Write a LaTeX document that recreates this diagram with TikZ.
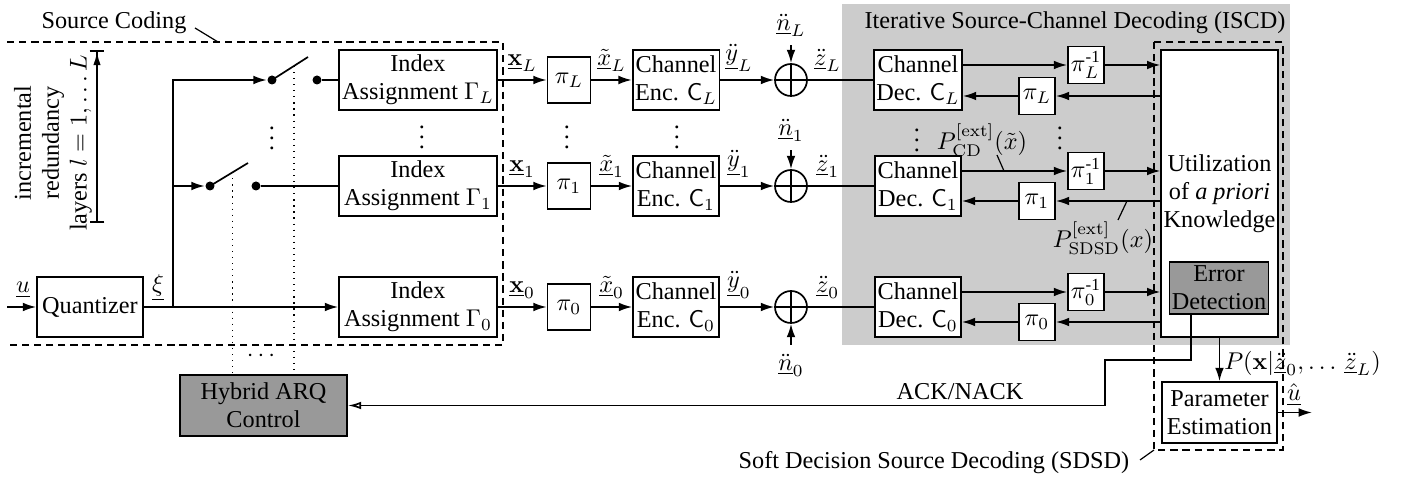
\documentclass[tikz,border=0pt]{standalone}
\usepackage{amsmath}
\usepackage[no-math]{fontspec}
\setmainfont{Liberation Serif}
\usetikzlibrary{arrows.meta,calc}
\newcommand{\pxl}{0.0145cm}
\tikzset{
  block/.style    = {shape=rectangle, draw, fill=white, align=center, inner sep=1pt},
  idxbox/.style   = {block, minimum width=158*\pxl, minimum height=60*\pxl},
  codbox/.style   = {block, minimum width=86*\pxl, minimum height=60*\pxl},
  permbox/.style  = {block, minimum width=43*\pxl, minimum height=46*\pxl},
  ilvbox/.style   = {block, minimum width=36*\pxl, minimum height=37*\pxl},
  ctrlbox/.style  = {block, fill=gray!80},
  adder/.style    = {circle, draw, minimum size=32*\pxl, inner sep=0pt},
  contact/.style  = {circle, fill, minimum size=9*\pxl, inner sep=0pt},
  arr/.style      = {-{Latex[length=5.5pt,width=3.6pt]}},
  openarr/.style  = {-{Latex[open,length=5.5pt,width=3.2pt]}},
  groupframe/.style = {dash pattern=on 3pt off 2pt},
  leader/.style   = {line width=0.5pt}
}

\begin{document}
\begin{tikzpicture}
  [
  x=\pxl, y=-\pxl,
  line width=0.7pt,
  every node/.style = {font=\fontsize{10}{11.5}\selectfont}
  ]
  \useasboundingbox (0,0) rectangle (1411,479);

  % ISCD area
  \fill[gray!40] (842,4) rectangle (1290,345);
  \node (iscdlbl) at (1075,23) {Iterative Source-Channel Decoding (ISCD)};

  % source coding
  \draw[groupframe] (7,42) -| (503,345) -- (7,345);
  \node (srclbl) at (114,23) {Source Coding};
  \draw[leader] (195,28) -- (218,42);
  \draw[{Bar[width=6pt]}-{Latex[open,length=5.5pt,width=3pt]Bar[width=6pt]}] (97,223) -- (97,50);
  \node[rotate=90, align=center] (layerslbl) at (53,143) {incremental\\redundancy\\layers $l=1,\dots L$};

  \node[block, minimum width=106*\pxl, minimum height=60*\pxl] (quant) at (90,307) {Quantizer};
  \coordinate (uin) at (7,307);
  \draw[arr] (uin) -- (quant);
  \node (ulbl) at (23,290) {$\underline{u}$};
  \node (xilbl) at (158,288) {$\underline{\xi}$};

  \node[idxbox] (iaL) at (418,80) {Index\\Assignment $\Gamma_L$};
  \node[idxbox] (ia1) at (418,186) {Index\\Assignment $\Gamma_1$};
  \node[idxbox] (ia0) at (418,307) {Index\\Assignment $\Gamma_0$};
  \node (iadots) at (422,130) {$\vdots$};

  % switches
  \coordinate (bus) at (173,307);
  \node[contact] (swLa) at (272,80) {};
  \node[contact] (swLb) at (317,80) {};
  \coordinate (swLtip) at (308,57);
  \node[contact] (sw1a) at (210,186) {};
  \node[contact] (sw1b) at (256,186) {};
  \coordinate (sw1tip) at (248,163);
  \node (swdots) at (272,131) {$\vdots$};
  \draw[arr] (quant) -- (ia0);
  \draw[arr] (bus) |- (swLa);
  \draw[arr] (bus |- sw1a) -- (sw1a);
  \draw (swLa.center) -- (swLtip);
  \draw (sw1a.center) -- (sw1tip);
  \draw (swLb) -- (iaL);
  \draw (sw1b) -- (ia1);

  \node[ctrlbox, minimum width=167*\pxl, minimum height=61*\pxl] (harq) at (263.5,405.5) {Hybrid ARQ\\Control};
  \draw[dotted, line width=0.5pt] ($(swLa)!0.61!(swLtip)$) coordinate (ctlL) -- (ctlL |- harq.north);
  \draw[dotted, line width=0.5pt] ($(sw1a)!0.6!(sw1tip)$) coordinate (ctl1) -- (ctl1 |- harq.north);
  \node (ctldots) at (263,356) {$\cdots$};

  % layer L
  \node[permbox] (piL) at (569,80) {$\pi_L$};
  \node[codbox] (encL) at (676,80) {Channel\\Enc. $\mathsf{C}_L$};
  \node[adder] (addL) at (791,80) {};
  \draw (addL.north) -- (addL.south) (addL.west) -- (addL.east);
  \node (nL) at (791,25) {$\underline{\ddot{n}}_L$};
  \draw[arr] (iaL) -- node[above] (xL) {$\underline{\mathbf{x}}_L$} (piL);
  \draw[arr] (piL) -- node[above] (xtL) {$\underline{\tilde{x}}_L$} (encL);
  \draw[arr] (encL) -- node[above, pos=0.35] (yL) {$\underline{\ddot{y}}_L$} (addL);
  \draw[arr] (nL) -- (addL);

  % layer 1
  \node[permbox] (pi1) at (569,186) {$\pi_1$};
  \node[codbox] (enc1) at (676,186) {Channel\\Enc. $\mathsf{C}_1$};
  \node[adder] (add1) at (791,186) {};
  \draw (add1.north) -- (add1.south) (add1.west) -- (add1.east);
  \node (n1) at (791,130) {$\underline{\ddot{n}}_1$};
  \draw[arr] (ia1) -- node[above] (x1) {$\underline{\mathbf{x}}_1$} (pi1);
  \draw[arr] (pi1) -- node[above] (xt1) {$\underline{\tilde{x}}_1$} (enc1);
  \draw[arr] (enc1) -- node[above, pos=0.35] (y1) {$\underline{\ddot{y}}_1$} (add1);
  \draw[arr] (n1) -- (add1);

  % layer 0
  \node[permbox] (pi0) at (569,307) {$\pi_0$};
  \node[codbox] (enc0) at (676,307) {Channel\\Enc. $\mathsf{C}_0$};
  \node[adder] (add0) at (791,307) {};
  \draw (add0.north) -- (add0.south) (add0.west) -- (add0.east);
  \node (n0) at (791,365) {$\underline{\ddot{n}}_0$};
  \draw[arr] (ia0) -- node[above] (x0) {$\underline{\mathbf{x}}_0$} (pi0);
  \draw[arr] (pi0) -- node[above] (xt0) {$\underline{\tilde{x}}_0$} (enc0);
  \draw[arr] (enc0) -- node[above, pos=0.35] (y0) {$\underline{\ddot{y}}_0$} (add0);
  \draw[arr] (n0) -- (add0);

  \node (pidots) at (567,130) {$\vdots$};
  \node (encdots) at (677,130) {$\vdots$};

  % decoder side
  \node[block, minimum width=115*\pxl, minimum height=287*\pxl] (util) at (1219.5,193.5) {Utilization\\of \emph{a priori}\\Knowledge};
  \node[ctrlbox, minimum width=86*\pxl, minimum height=52*\pxl] (errdet) at (1219,288) {Error\\Detection};
  \draw[groupframe] (1154,42) rectangle (1283,450);

  \node[codbox] (decL) at (918,80) {Channel\\Dec. $\mathsf{C}_L$};
  \node[codbox] (dec1) at (918,186) {Channel\\Dec. $\mathsf{C}_1$};
  \node[codbox] (dec0) at (918,307) {Channel\\Dec. $\mathsf{C}_0$};
  \draw (addL) -- node[above, pos=0.3] (zL) {$\underline{\ddot{z}}_L$} (decL);
  \draw (add1) -- node[above, pos=0.3] (z1) {$\underline{\ddot{z}}_1$} (dec1);
  \draw (add0) -- node[above, pos=0.3] (z0) {$\underline{\ddot{z}}_0$} (dec0);

  \node[ilvbox] (pinvL) at (1086,65) {$\pi_L^{\text{-1}}$};
  \node[ilvbox] (pibL) at (1037,96) {$\pi_L$};
  \node[ilvbox] (pinv1) at (1086,171) {$\pi_1^{\text{-1}}$};
  \node[ilvbox] (pib1) at (1037,201) {$\pi_1$};
  \node[ilvbox] (pinv0) at (1086,292) {$\pi_0^{\text{-1}}$};
  \node[ilvbox] (pib0) at (1037,322) {$\pi_0$};

  \draw[arr] ($(decL.east)+(0,-15)$) -- (pinvL);
  \draw[arr] (pinvL) -- (pinvL -| util.west);
  \draw[arr] (util.west |- pibL) -- (pibL);
  \draw[arr] (pibL) -- (pibL -| decL.east);
  \draw[arr] ($(dec1.east)+(0,-15)$) -- (pinv1);
  \draw[arr] (pinv1) -- (pinv1 -| util.west);
  \draw[arr] (util.west |- pib1) -- (pib1);
  \draw[arr] (pib1) -- (pib1 -| dec1.east);
  \draw[arr] ($(dec0.east)+(0,-15)$) -- (pinv0);
  \draw[arr] (pinv0) -- (pinv0 -| util.west);
  \draw[arr] (util.west |- pib0) -- (pib0);
  \draw[arr] (pib0) -- (pib0 -| dec0.east);

  \node (decdots) at (917,133) {$\vdots$};
  \node (ilvdots) at (1060,131) {$\vdots$};
  \node (pcdlbl) at (982,140) {$P^{[\mathrm{ext}]}_{\mathrm{CD}}(\tilde{x})$};
  \draw[leader] (997,155) -- (1004,171);
  \node (psdlbl) at (1103,238) {$P^{[\mathrm{ext}]}_{\mathrm{SDSD}}(x)$};
  \draw[leader] (1118,220) -- (1127,201);

  % SDSD output
  \node[block, minimum width=115*\pxl, minimum height=61*\pxl] (param) at (1219.5,412.5) {Parameter\\Estimation};
  \draw[arr] (util.south) -- (param.north);
  \node[anchor=west, inner sep=1pt] (plbl) at (1221,363) {$P(\mathbf{x}|\underline{\ddot{z}}_0,\ldots\,\underline{\ddot{z}}_L)$};
  \coordinate (uout) at (1312,412.5);
  \draw[arr] (param.east) -- (uout);
  \node (uhat) at (1294,395) {$\hat{\underline{u}}$};
  \node (sdsdlbl) at (934,463) {Soft Decision Source Decoding (SDSD)};
  \draw[leader] (1140,460) -- (1154,450);

  % feedback
  \draw[openarr] ($(errdet.south)+(-28,0)$) |- (1105,360) |- (harq.east);
  \node (acklbl) at (960,392) {ACK/NACK};
\end{tikzpicture}
\end{document}
